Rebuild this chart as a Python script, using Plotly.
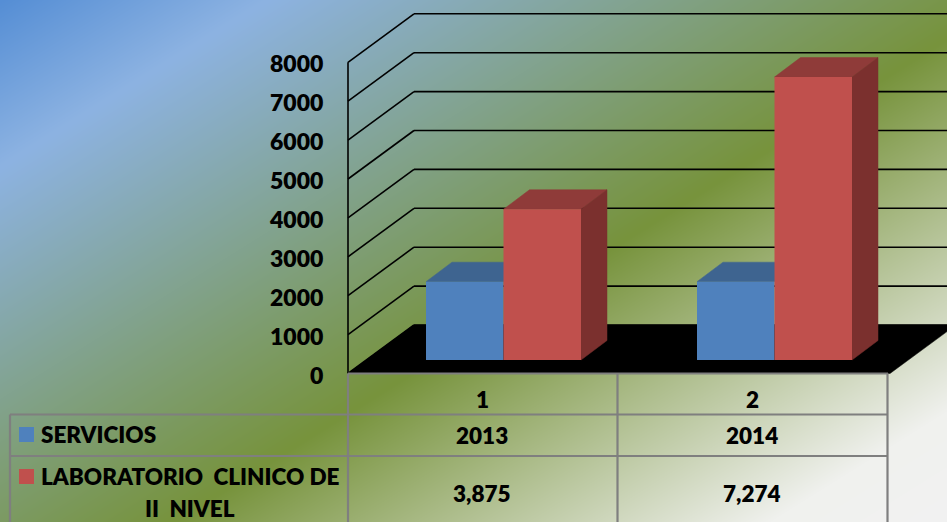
import base64, struct, zlib
import numpy as np
import plotly.graph_objects as go

# ---- data ----
categories = [1, 2]
years = [2013, 2014]
servicios = [2013, 2014]
laboratorio = [3875, 7274]
y_ticks = [0, 1000, 2000, 3000, 4000, 5000, 6000, 7000, 8000]
series_names = ["SERVICIOS", "LABORATORIO\u00a0\u00a0CLINICO DE", "II\u00a0\u00a0NIVEL"]

# ---- layout constants ----
W, H = 947, 522
PX_X = 271.0                 # pixels per category
PX_Y = 0.0389                # pixels per value unit
X1_PX, Y0_PX = 483.0, 373.5  # pixel of category 1, pixel of value 0
x_range = [1 - X1_PX / PX_X, 1 + (W - X1_PX) / PX_X]
y_range = [(Y0_PX - H) / PX_Y, Y0_PX / PX_Y]
FONT = "Lato"
BLUE, BLUE_TOP = "#4f81bd", "#3e6490"
RED, RED_TOP, RED_SIDE = "#c0504d", "#8f3b39", "#7b302e"
GRID_GREY = "#7f7f7f"

dx = lambda px: px / PX_X
dy = lambda px: px / PX_Y

WALL_DX, WALL_DY = dx(66), dy(48.5)
BAR_BASE = dy(13.5)
BAR_W = dx(77.5)
BAR_DX, BAR_DY = dx(26), dy(19.5)
AXIS_X = 1 - dx(135)
AXIS_END = AXIS_X + 2
BLUE_OFF, RED_OFF = dx(-57), dx(20.5)


def gradient_png():
    stops_t = [0.0, 0.15, 0.565, 0.90, 1.0]
    stops_c = np.array([[85, 142, 213], [141, 179, 226], [119, 147, 60], [240, 241, 238], [242, 242, 242]], float)
    yy, xx = np.mgrid[0:H, 0:W]
    t = np.clip((0.625 * xx + yy) / 1114.0, 0, 1)
    img = np.stack([np.interp(t, stops_t, stops_c[:, i]) for i in range(3)], axis=-1).astype(np.uint8)
    raw = b"".join(b"\x00" + img[r].tobytes() for r in range(H))

    def chunk(tag, data):
        return struct.pack(">I", len(data)) + tag + data + struct.pack(">I", zlib.crc32(tag + data))

    png = (b"\x89PNG\r\n\x1a\n" + chunk(b"IHDR", struct.pack(">IIBBBBB", W, H, 8, 2, 0, 0, 0))
           + chunk(b"IDAT", zlib.compress(raw, 9)) + chunk(b"IEND", b""))
    return "data:image/png;base64," + base64.b64encode(png).decode()


def data_path(xs, ys):
    return "M" + " L".join(f"{x:.5f},{y:.2f}" for x, y in zip(xs, ys)) + " Z"


shapes = []


def poly(xs, ys, color):
    shapes.append(dict(type="path", xref="x", yref="y", layer="below", path=data_path(xs, ys),
                       fillcolor=color, line=dict(color=color, width=0.5)))


def seg(xs, ys, width=1.6):
    for i in range(len(xs) - 1):
        shapes.append(dict(type="line", xref="x", yref="y", layer="below",
                           x0=xs[i], x1=xs[i + 1], y0=ys[i], y1=ys[i + 1],
                           line=dict(color="#000000", width=width)))


# back wall grid lines and left edge
for v in y_ticks:
    seg([AXIS_X, AXIS_X + WALL_DX, AXIS_END + WALL_DX], [v, v + WALL_DY, v + WALL_DY])
seg([AXIS_X, AXIS_X], [0, y_ticks[-1]])

# floor
poly([AXIS_X, AXIS_X + WALL_DX, AXIS_END + WALL_DX, AXIS_END],
     [0, WALL_DY, WALL_DY, 0], "#000000")


def faces(values, off, top, side=None):
    for c, v in zip(categories, values):
        xl, xr = c + off, c + off + BAR_W
        yt = BAR_BASE + v
        poly([xl, xl + BAR_DX, xr + BAR_DX, xr], [yt, yt + BAR_DY, yt + BAR_DY, yt], top)
        if side:
            poly([xr, xr + BAR_DX, xr + BAR_DX, xr],
                 [BAR_BASE, BAR_BASE + BAR_DY, yt + BAR_DY, yt], side)


faces(servicios, BLUE_OFF, BLUE_TOP)
faces(laboratorio, RED_OFF, RED_TOP, RED_SIDE)

fig = go.Figure()
fig.add_trace(go.Bar(x=categories, y=servicios, base=BAR_BASE, width=BAR_W, offset=BLUE_OFF,
                     marker=dict(color=BLUE, line=dict(width=0)), name="SERVICIOS"))
fig.add_trace(go.Bar(x=categories, y=laboratorio, base=BAR_BASE, width=BAR_W, offset=RED_OFF,
                     marker=dict(color=RED, line=dict(width=0)),
                     name="LABORATORIO CLINICO DE II NIVEL"))


# ---- data table furniture ----
def px_shape(x0, y0, x1, y1, **kw):
    return dict(type="line", xref="paper", yref="paper", x0=x0 / W, x1=x1 / W,
                y0=1 - y0 / H, y1=1 - y1 / H, **kw)


grey = dict(color=GRID_GREY, width=2.2)
shapes += [
    px_shape(348, 373.5, 888, 373.5, line=grey),
    px_shape(10, 414.5, 888, 414.5, line=grey),
    px_shape(10, 456, 888, 456, line=grey),
    px_shape(10, 414.5, 10, H, line=grey),
    px_shape(348, 373.5, 348, H, line=grey),
    px_shape(617.5, 373.5, 617.5, H, line=grey),
    px_shape(887.5, 373.5, 887.5, H, line=grey),
]
for y0, col in ((427, BLUE), (469, RED)):
    shapes.append(dict(type="rect", xref="paper", yref="paper", x0=19 / W, x1=34 / W,
                       y0=1 - y0 / H, y1=1 - (y0 + 15) / H, fillcolor=col, line=dict(width=0)))


def label(text, x, y, anchor="center", size=22.5):
    return dict(text=text, xref="paper", yref="paper", x=x / W, y=1 - y / H,
                xanchor=anchor, yanchor="middle", showarrow=False,
                font=dict(family=FONT, size=size, color="#000000", weight=800))


annotations = [
    label(series_names[0], 39, 434, "left"),
    label(series_names[1], 39, 476, "left"),
    label(series_names[2], 190, 508),
]
for px_c, c, yr, lab in zip((482, 752), categories, years, laboratorio):
    annotations.append(label(str(c), px_c, 399))
    annotations.append(label(str(yr), px_c, 435))
    annotations.append(label(f"{lab:,}", px_c, 493))

fig.update_layout(
    width=W, height=H, autosize=False,
    margin=dict(l=0, r=0, t=0, b=0, pad=0),
    paper_bgcolor="rgba(0,0,0,0)", plot_bgcolor="rgba(0,0,0,0)",
    barmode="overlay", showlegend=False,
    font=dict(family=FONT),
    xaxis=dict(range=x_range, domain=[0, 1], visible=False, fixedrange=True),
    yaxis=dict(range=y_range, domain=[0, 1], anchor="free", position=348 / W, side="left",
               tickmode="array", tickvals=y_ticks, ticktext=[str(v) for v in y_ticks],
               tickfont=dict(family=FONT, size=23, color="#000000", weight=800),
               ticks="outside", ticklen=20, tickcolor="rgba(0,0,0,0)", showgrid=False,
               ticklabelshift=2,
               zeroline=False, showline=False, fixedrange=True),
    shapes=shapes, annotations=annotations,
    images=[dict(source=gradient_png(), xref="paper", yref="paper", x=0, y=1, sizex=1, sizey=1,
                 xanchor="left", yanchor="top", sizing="stretch", layer="below")],
)
fig.write_html("out.html", config=dict(displayModeBar=False),
               post_script="document.documentElement.style.margin='0';document.body.style.margin='0';document.body.style.overflow='hidden';")
